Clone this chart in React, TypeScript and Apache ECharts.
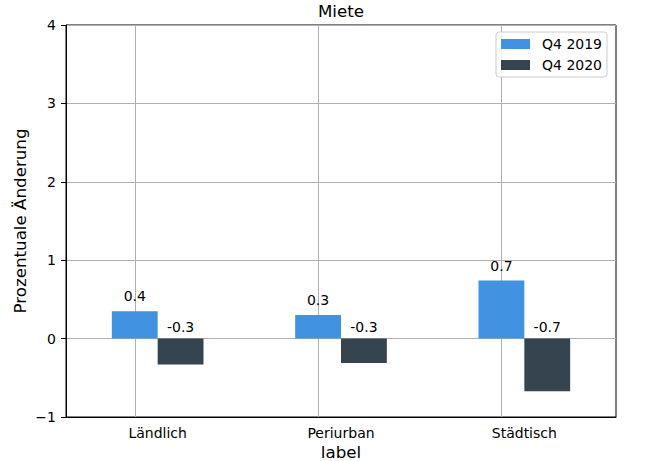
import React, { useEffect, useRef } from "react";
import * as echarts from "echarts";

const categories = ["Ländlich", "Periurban", "Städtisch"];
const seriesNames = ["Q4 2019", "Q4 2020"];
const q42019 = [0.35, 0.3, 0.74];
const q42020 = [-0.33, -0.31, -0.67];
const yMin = -1;
const yMax = 4;
const yInterval = 1;

const FONT = "DejaVu Sans";
const fmtVal = (v: number) => (Math.round(v * 10) / 10).toFixed(1);

export default function App() {
  const ref = useRef<HTMLDivElement>(null);
  useEffect(() => {
    if (!ref.current) return;
    const chart = echarts.init(ref.current, null, { renderer: "svg" });
    const gridLeft = 66;
    const gridRight = 32;
    const gridTop = 25;
    const gridBottom = 44;
    const plotCenter = gridLeft + (648 - gridLeft - gridRight) / 2;
    chart.setOption({
      animation: false,
      textStyle: { fontFamily: FONT },
      grid: {
        left: gridLeft,
        right: gridRight,
        top: gridTop,
        bottom: gridBottom,
        outerBoundsMode: "none",
        containLabel: false,
        show: true,
        borderColor: "#000",
        borderWidth: 1,
        backgroundColor: "transparent",
      },
      graphic: [
        {
          type: "text",
          x: plotCenter,
          y: 11,
          style: {
            text: "Miete",
            fontFamily: FONT,
            fontSize: 16.7,
            fill: "#000",
            textAlign: "center",
            textVerticalAlign: "middle",
          },
        },
      ],
      legend: {
        data: seriesNames,
        orient: "vertical",
        left: 496,
        top: 32,
        icon: "rect",
        itemWidth: 29,
        itemHeight: 10,
        itemGap: 7,
        padding: 5,
        backgroundColor: "rgba(255,255,255,0.8)",
        borderColor: "#cccccc",
        borderWidth: 1,
        borderRadius: 3,
        textStyle: {
          fontFamily: FONT,
          fontSize: 14,
          lineHeight: 14,
          color: "#000",
          padding: [0, 0, 0, 7],
        },
      },
      xAxis: {
        type: "category",
        data: categories,
        name: "label",
        nameLocation: "middle",
        nameGap: 26,
        nameMoveOverlap: false,
        nameTextStyle: { fontFamily: FONT, fontSize: 16.7, color: "#000" },
        axisLine: { onZero: false, lineStyle: { color: "#000", width: 1 } },
        axisTick: { alignWithLabel: true, length: 5, lineStyle: { color: "#000" } },
        axisLabel: { fontFamily: FONT, fontSize: 14, color: "#000", margin: 9 },
        splitLine: { show: false },
      },
      yAxis: {
        type: "value",
        min: yMin,
        max: yMax,
        interval: yInterval,
        name: "Prozentuale Änderung",
        nameLocation: "middle",
        nameGap: 38,
        nameMoveOverlap: false,
        nameTextStyle: { fontFamily: FONT, fontSize: 16.7, color: "#000" },
        axisLine: { show: true, lineStyle: { color: "#000", width: 1 } },
        axisTick: { show: true, length: 5, lineStyle: { color: "#000" } },
        axisLabel: {
          fontFamily: FONT,
          fontSize: 14,
          color: "#000",
          margin: 10,
          formatter: (v: number) => String(v).replace("-", "\u2212"),
        },
        splitLine: { show: true, lineStyle: { color: "#b0b0b0", width: 1 } },
      },
      series: [
        {
          name: seriesNames[0],
          type: "bar",
          data: q42019,
          barWidth: "25%",
          barGap: "0%",
          itemStyle: { color: "#4192e1" },
          label: {
            show: true,
            position: "top",
            distance: 8,
            fontFamily: FONT,
            fontSize: 14,
            color: "#000",
            formatter: (p: any) => fmtVal(p.value),
          },
          markLine: {
            silent: true,
            z: 1,
            symbol: ["none", "none"],
            label: { show: false },
            lineStyle: { color: "#b0b0b0", type: "solid", width: 1 },
            emphasis: { disabled: true },
            data: categories.map((c) => ({ xAxis: c })),
          },
        },
        {
          name: seriesNames[1],
          type: "bar",
          data: q42020,
          barWidth: "25%",
          barGap: "0%",
          itemStyle: { color: "#36444f" },
          label: {
            show: true,
            position: "top",
            distance: 5,
            fontFamily: FONT,
            fontSize: 14,
            color: "#000",
            formatter: (p: any) => fmtVal(p.value),
          },
        },
      ],
    });
    return () => chart.dispose();
  }, []);
  return (
    <div
      ref={ref}
      style={{ position: "fixed", left: 0, top: 0, width: 648, height: 461, background: "#fff" }}
    />
  );
}
